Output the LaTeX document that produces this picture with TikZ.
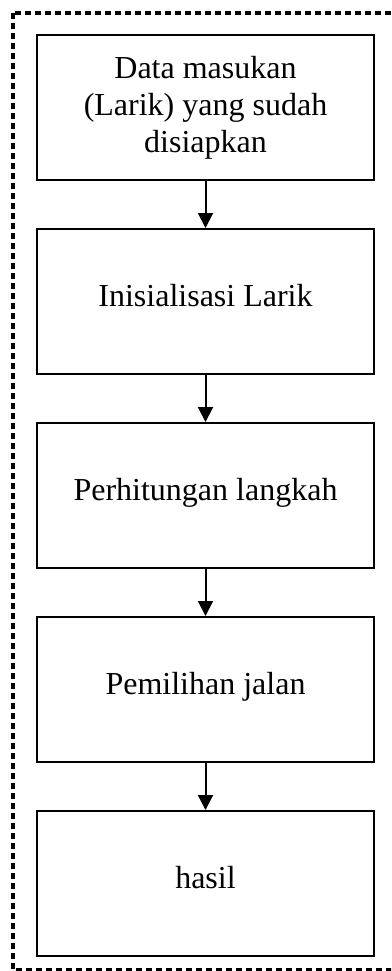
\documentclass[tikz,border=0pt]{standalone}
\usepackage{fontspec}
\setmainfont{Liberation Serif}
\usetikzlibrary{arrows.meta,positioning}

\begin{document}
\begin{tikzpicture}[x=1pt, y=-1pt,
  kotak/.style={draw, line width=2pt, minimum width=337pt, minimum height=145pt,
    inner sep=0pt, align=center, font=\fontsize{32}{37}\selectfont},
  satu/.style={text height=22pt, text depth=12pt},
  panah/.style={-{Triangle[length=15pt,width=15pt]}, line width=2pt}]
  \useasboundingbox (0,0) rectangle (391,971);
  \clip (0,0) rectangle (391,971);

  % bingkai putus-putus
  \draw[line width=3.5pt, dash pattern=on 6pt off 4pt] (13,13) rectangle (420,970);

  % kotak proses
  \node[kotak] (data) at (205.5,107.5) {Data masukan\\(Larik) yang sudah\\disiapkan};
  \node[kotak, satu, below=47pt of data] (inisial) {Inisialisasi Larik};
  \node[kotak, satu, below=47pt of inisial] (hitung) {Perhitungan langkah};
  \node[kotak, satu, below=47pt of hitung] (pilih) {Pemilihan jalan};
  \node[kotak, satu, below=47pt of pilih] (hasil) {hasil};

  % panah
  \draw[panah] (data) -- (inisial);
  \draw[panah] (inisial) -- (hitung);
  \draw[panah] (hitung) -- (pilih);
  \draw[panah] (pilih) -- (hasil);
\end{tikzpicture}
\end{document}
